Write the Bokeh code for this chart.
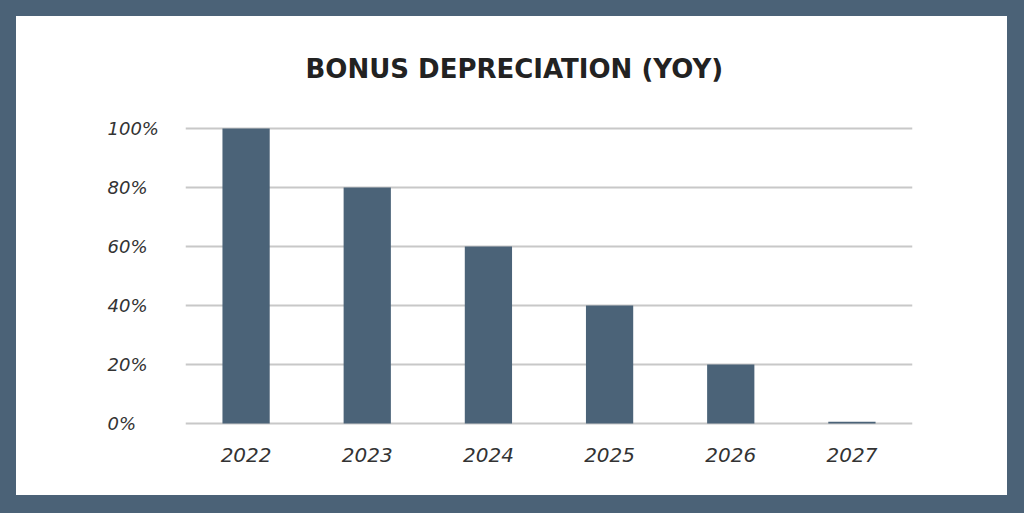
from bokeh.plotting import figure
from bokeh.layouts import row
from bokeh.models import FactorRange, Range1d, FixedTicker, GlobalInlineStyleSheet, Title, ColumnDataSource
from bokeh.core.properties import value
from bokeh.embed import file_html
from bokeh.resources import INLINE

years = ["2022", "2023", "2024", "2025", "2026", "2027"]
values = [100, 80, 60, 40, 20, 0.6]
y_ticks = [0, 20, 40, 60, 80, 100]
y_tick_labels = ["0%", "20%", "40%", "60%", "80%", "100%"]
title_text = "BONUS DEPRECIATION (YOY)"

BORDER = "#4b6277"
BAR = "#4b6378"
Y0, Y1 = -4.4, 104.4
TOP, BOTTOM, H = 99, 59, 479
LEFT_W, MAIN_W = 169, 822

yr = Range1d(Y0, Y1)

# main chart
p = figure(
    x_range=FactorRange(*years, range_padding=0),
    y_range=yr,
    width=MAIN_W, height=H,
    output_backend="svg", toolbar_location=None,
    min_border_left=0, min_border_right=95,
    min_border_top=TOP, min_border_bottom=BOTTOM,
    outline_line_color=None,
)
p.styles = {"background-color": "white"}
p.background_fill_color = "white"
p.border_fill_color = "white"

p.vbar(x=years, top=values, width=0.39, color=BAR, line_color=None)

p.add_layout(Title(text=title_text, align="left", offset=120, standoff=63,
                   text_font="DejaVu Sans", text_font_style="bold",
                   text_font_size="26px", text_color="#222222"), "above")

p.xgrid.grid_line_color = None
p.ygrid.grid_line_color = "#c8c8c8"
p.ygrid.grid_line_width = 2
p.yaxis.ticker = FixedTicker(ticks=y_ticks)
p.yaxis.visible = False

p.xaxis.axis_line_color = None
p.xaxis.major_tick_line_color = None
p.xaxis.minor_tick_line_color = None
p.xaxis.major_label_text_font = "DejaVu Sans"
p.xaxis.major_label_text_font_style = "italic"
p.xaxis.major_label_text_font_size = "20px"
p.xaxis.major_label_text_color = "#333333"
p.xaxis.major_label_standoff = 5

# left strip carrying the left-aligned y tick labels, same vertical scale
pl = figure(
    x_range=Range1d(0, LEFT_W), y_range=yr,
    width=LEFT_W, height=H,
    output_backend="svg", toolbar_location=None,
    min_border_left=0, min_border_right=0,
    min_border_top=TOP, min_border_bottom=BOTTOM,
    x_axis_type=None, y_axis_type=None, outline_line_color=None,
)
pl.styles = {"background-color": "white"}
pl.background_fill_color = "white"
pl.border_fill_color = "white"
pl.xgrid.visible = False
pl.ygrid.visible = False
src = ColumnDataSource(dict(x=[0] * len(y_ticks), y=y_ticks, text=y_tick_labels))
pl.text(x="x", y="y", text="text", source=src, x_offset=91,
        text_align="left", text_baseline="middle",
        text_font=value("DejaVu Sans"), text_font_style="italic",
        text_font_size="18px", text_color="#333333")

layout = row(pl, p, spacing=0)
layout.styles = {"background-color": "white"}
layout.stylesheets = [GlobalInlineStyleSheet(css="html, body { background: %s !important; } body { margin: 16px !important; }" % BORDER)]

open("out.html", "w").write(file_html(layout, INLINE))
